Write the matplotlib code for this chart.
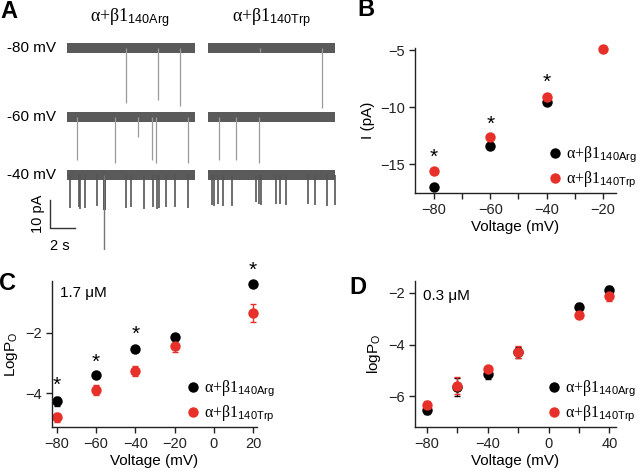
import matplotlib
matplotlib.use('Agg')
import matplotlib.pyplot as plt
import numpy as np
from matplotlib.lines import Line2D

plt.rcParams['font.family'] = ['Liberation Sans', 'DejaVu Sans']
plt.rcParams['mathtext.fontset'] = 'custom'
plt.rcParams['mathtext.rm'] = 'Liberation Serif'
plt.rcParams['mathtext.sf'] = 'Liberation Sans'
plt.rcParams['mathtext.it'] = 'Liberation Serif:italic'

# ---------------- data ----------------
BLACK = 'black'
RED = '#e8302a'
name_arg = r'$\mathrm{α{+}β1}_{\mathsf{140Arg}}$'
name_trp = r'$\mathrm{α{+}β1}_{\mathsf{140Trp}}$'

# Panel A: single-channel traces (events: time in s, depth in pA)
row_labels = ['-80 mV', '-60 mV', '-40 mV']
trace_len = 10.2
arg_t = [[4.72, 7.28, 9.04],
         [0.80, 3.84, 5.68, 6.80, 7.12, 9.68],
         [0.24, 0.96, 1.04, 1.44, 2.40, 4.72, 5.12, 6.16, 6.88, 7.20, 7.36, 7.92, 8.64, 9.68]]
arg_d = [[19.6, 18.6, 20.7],
         [15.4, 16.4, 7.1, 15.4, 16.4, 16.4],
         [11.8, 11.5, 12.0, 11.8, 11.0, 11.8, 11.5, 12.0, 11.6, 12.2, 11.8, 11.4, 11.6, 11.8]]
arg_burst_t = [2.88]     # long opening at -40 mV
arg_burst_w = [0.24]
arg_burst_d = [12.4]
arg_double_t = [2.92]
arg_double_d = [26.8]
trp_t = [[4.16, 9.12],
         [0.88, 2.24, 4.08],
         [0.32, 0.48, 0.80, 1.20, 1.92, 3.84, 4.08, 4.24, 5.44, 5.76, 6.24, 8.00, 8.56, 9.52, 10.16]]
trp_d = [[1.5, 21.4],
         [15.4, 15.4, 16.4],
         [10.7, 11.0, 10.5, 10.9, 11.2, 9.8, 10.5, 10.8, 10.5, 10.2, 10.8, 10.4, 10.8, 10.9, 10.6]]

# Panel B: I-V
vB = [-80, -60, -40, -20]
iB_arg = [-17.0, -13.4, -9.6, np.nan]
iB_trp = [-15.6, -12.6, -9.1, -4.93]
starB_v = [-80, -60, -40]
starB_y = [-14.4, -11.5, -7.8]

# Panel C: logPo at 1.7 uM
vC = [-80, -60, -40, -20, 20]
pC_arg = [-4.28, -3.40, -2.54, -2.12, -0.37]
eC_arg = [0.15, 0.07, 0.07, 0.08, 0.05]
pC_trp = [-4.81, -3.90, -3.26, -2.43, -1.34]
eC_trp = [0.15, 0.17, 0.17, 0.22, 0.29]
starC_v = [-80, -60, -40, 20]
starC_y = [-3.75, -2.98, -2.05, 0.08]

# Panel D: logPo at 0.3 uM
vD = [-80, -60, -40, -20, 20, 40]
pD_arg = [-6.54, -5.62, -5.14, -4.30, -2.54, -1.87]
eD_arg = [0.12, 0.35, 0.20, 0.20, 0.15, 0.12]
pD_trp = [-6.32, -5.59, -4.95, -4.28, -2.86, -2.13]
eD_trp = [0.15, 0.33, 0.10, 0.22, 0.10, 0.17]

# ---------------- layout helpers ----------------
W, H = 640, 476
fig = plt.figure(figsize=(W / 100, H / 100), dpi=100)


def rect(x0, y0, x1, y1):
    return [x0 / W, 1 - y1 / H, (x1 - x0) / W, (y1 - y0) / H]


def ftext(x, y, s, **kw):
    fig.text(x / W, 1 - y / H, s, **kw)


def style_axes(ax):
    for sp in ['top', 'right']:
        ax.spines[sp].set_visible(False)
    for sp in ['left', 'bottom']:
        ax.spines[sp].set_linewidth(1.0)
        ax.spines[sp].set_color('#222222')
    ax.tick_params(direction='out', length=4, width=1.0, labelsize=10.5, colors='#222222', pad=3)
    ax.tick_params(which='minor', direction='out', length=4, width=1.0, colors='#222222')
    ax.set_facecolor('none')


MS = 7.5


def add_legend(ax, x_anchor):
    handles = [Line2D([], [], marker='o', ls='none', color=BLACK, ms=MS, mec='none'),
               Line2D([], [], marker='o', ls='none', color=RED, ms=MS, mec='none')]
    ax.legend(handles, [name_arg, name_trp], loc='lower left', bbox_to_anchor=(x_anchor, 0.02),
              frameon=False, fontsize=11.5, handlelength=0.8, handletextpad=0.3,
              labelspacing=0.3, borderpad=0, borderaxespad=0)


# ---------------- Panel A ----------------
axA = fig.add_axes(rect(0, 0, 340, 250))
axA.set_axis_off()
# pixel mapping: x_px = 67 + 12.5*t ; y_px = 48 - 2.8*pA
axA.set_xlim((0 - 67) / 12.5, (340 - 67) / 12.5)
axA.set_ylim((48 - 250) / 2.8, (48 - 0) / 2.8)
row_base = [0.0, (48 - 117) / 2.8, (48 - 175) / 2.8]
col_off = [0.0, (208 - 67) / 12.5]
band = 1.8
band_col = '#5a5a5a'
for col, (ts, ds) in enumerate([(arg_t, arg_d), (trp_t, trp_d)]):
    x0 = col_off[col]
    for r in range(3):
        b = row_base[r]
        axA.fill_between([x0, x0 + trace_len], b - band, b + band, color=band_col, lw=0)
        ev_col = '#9a9a9a' if r < 2 else '#555555'
        ev_lw = 0.9 if r < 2 else 1.2
        tt = np.array(ts[r]) + x0
        dd = np.array(ds[r])
        axA.vlines(tt, b - dd, b, colors=ev_col, lw=ev_lw)
# burst and double opening on the 140Arg -40 mV trace
axA.bar(arg_burst_t, [-d for d in arg_burst_d], width=arg_burst_w, bottom=row_base[2],
        align='edge', color='#555555', lw=0)
axA.vlines(arg_double_t, row_base[2] - np.array(arg_double_d), row_base[2], colors='#777777', lw=1.0)
# scale bars: 2 s, 10 pA
sb_t0 = (50 - 67) / 12.5
sb_y0 = (48 - 228) / 2.8
axA.plot([sb_t0, sb_t0, sb_t0 + 2], [sb_y0 + 10, sb_y0, sb_y0], color='#333333', lw=1.0, clip_on=False)

ftext(38, 214, '10 pA', rotation=90, ha='center', va='center', fontsize=10.5)
ftext(60, 246, '2 s', ha='center', va='center', fontsize=10.5)
for lab, yy in zip(row_labels, [48, 117, 175]):
    ftext(7, yy, lab, ha='left', va='center', fontsize=11)
ftext(130, 18, name_arg, ha='center', va='center', fontsize=13)
ftext(272, 18, name_trp, ha='center', va='center', fontsize=13)

# ---------------- Panel B ----------------
axB = fig.add_axes(rect(415, 48, 616, 193))
style_axes(axB)
axB.plot(vB, iB_arg, 'o', color=BLACK, ms=MS, mec='none', clip_on=False)
axB.plot(vB, iB_trp, 'o', color=RED, ms=MS, mec='none', clip_on=False)
axB.set_xlim(-86.7, -15.4)
axB.set_ylim(-17.54, -4.82)
axB.set_xticks([-80, -60, -40, -20])
axB.set_xticks([-70, -50, -30], minor=True)
axB.set_yticks([-15, -10, -5])
axB.set_xlabel('Voltage (mV)', fontsize=11, labelpad=2)
axB.set_ylabel('I (pA)', fontsize=11, labelpad=4)
for v, y in zip(starB_v, starB_y):
    axB.text(v, y, '*', ha='center', va='center', fontsize=15, clip_on=False)
add_legend(axB, 0.665)

# ---------------- Panel C ----------------
axC = fig.add_axes(rect(52, 281, 257, 427))
style_axes(axC)
axC.errorbar(vC, pC_arg, yerr=eC_arg, fmt='o', color=BLACK, ms=MS, mec='none', capsize=2,
             elinewidth=1, clip_on=False)
axC.errorbar(vC, pC_trp, yerr=eC_trp, fmt='o', color=RED, ms=MS, mec='none', capsize=2,
             elinewidth=1, clip_on=False)
axC.set_xlim(-82.5, 22)
axC.set_ylim(-5.13, -0.27)
axC.set_xticks([-80, -60, -40, -20, 0, 20])
axC.set_yticks([-4, -2])
axC.set_xlabel('Voltage (mV)', fontsize=11, labelpad=2)
axC.set_ylabel(r'LogP$_{\mathsf{O}}$', fontsize=11, labelpad=4)
for v, y in zip(starC_v, starC_y):
    axC.text(v, y, '*', ha='center', va='center', fontsize=15, clip_on=False)
axC.text(0.04, 0.92, '1.7 μM', transform=axC.transAxes, ha='left', va='center', fontsize=11)
add_legend(axC, 0.655)

# ---------------- Panel D ----------------
axD = fig.add_axes(rect(415, 281, 616, 427))
style_axes(axD)
axD.errorbar(vD, pD_arg, yerr=eD_arg, fmt='o', color=BLACK, ms=MS, mec='none', capsize=2,
             elinewidth=1, clip_on=False)
axD.errorbar(vD, pD_trp, yerr=eD_trp, fmt='o', color=RED, ms=MS, mec='none', capsize=2,
             elinewidth=1, clip_on=False)
axD.set_xlim(-87.9, 44.4)
axD.set_ylim(-7.18, -1.54)
axD.set_xticks([-80, -40, 0, 40])
axD.set_xticks([-60, -20, 20], minor=True)
axD.set_yticks([-6, -4, -2])
axD.set_xlabel('Voltage (mV)', fontsize=11, labelpad=2)
axD.set_ylabel(r'logP$_{\mathsf{O}}$', fontsize=11, labelpad=4)
axD.text(0.04, 0.9, '0.3 μM', transform=axD.transAxes, ha='left', va='center', fontsize=11)
add_legend(axD, 0.66)

# panel letters
for lab, x, y in [('A', 9, 12), ('B', 366, 10), ('C', 8, 283), ('D', 358, 287)]:
    ftext(x, y, lab, ha='center', va='center', fontsize=17, fontweight='bold')

fig.savefig('out.png', dpi=100)
